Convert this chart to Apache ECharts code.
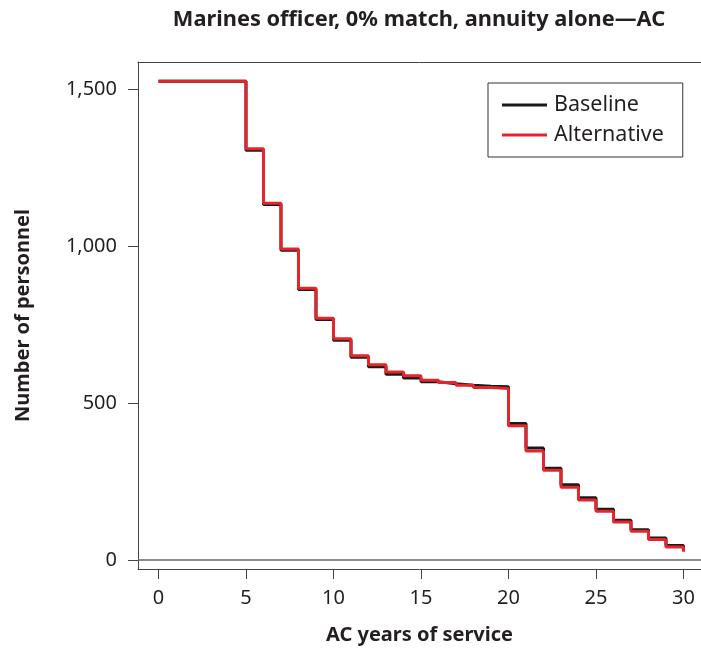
<!DOCTYPE html>
<html>
<head>
<meta charset="utf-8">
<script src="https://cdn.jsdelivr.net/npm/echarts@6/dist/echarts.min.js"></script>
<style>
  html, body { margin: 0; padding: 0; background: #fff; }
  #chart { width: 701px; height: 651px; }
</style>
</head>
<body>
<div id="chart"></div>
<script>
// years of service (AC)
var years = [0, 1, 2, 3, 4, 5, 6, 7, 8, 9, 10, 11, 12, 13, 14, 15, 16, 17, 18, 19, 20, 21, 22, 23, 24, 25, 26, 27, 28, 29, 30];
// number of personnel remaining
var baseline = [1525, 1525, 1525, 1525, 1525, 1305, 1132, 987, 862, 766, 700, 646, 616, 592, 580, 568, 562, 557, 554, 552, 435, 357, 293, 240, 199, 162, 127, 97, 71, 47, 30];
var alternative = [1525, 1525, 1525, 1525, 1525, 1310, 1136, 991, 866, 770, 705, 651, 622, 599, 587, 573, 566, 557, 550, 547, 428, 348, 286, 232, 192, 156, 122, 92, 66, 42, 27];
var xTicks = [0, 5, 10, 15, 20, 25, 30];
var yTicks = [0, 500, 1000, 1500];

var FONT = 'Noto Sans';
var FRAME = '#444';

function pairs(xs, ys) {
  var out = [];
  for (var i = 0; i < xs.length; i++) {
    out.push([xs[i], ys[i]]);
  }
  return out;
}

var chart = echarts.init(document.getElementById('chart'));

var option = {
  animation: false,
  title: {
    text: 'Marines officer, 0% match, annuity alone\u2014AC',
    left: 414,
    top: 4,
    textAlign: 'center',
    textStyle: { fontFamily: FONT, fontWeight: 'bold', fontSize: 21.8, color: '#231f20' }
  },
  legend: {
    left: 488,
    top: 83,
    orient: 'vertical',
    icon: 'rect',
    itemWidth: 45,
    itemHeight: 3,
    itemGap: 8,
    padding: [11, 19, 11, 14],
    borderColor: '#333',
    borderWidth: 1,
    textStyle: { fontFamily: FONT, fontSize: 21.5, color: '#231f20', padding: [0, 0, 0, 2] },
    data: ['Baseline', 'Alternative']
  },
  grid: {
    left: 138,
    top: 62,
    right: 0,
    bottom: 82,
    outerBoundsMode: 'none'
  },
  xAxis: [
    {
      type: 'value',
      min: -1.17,
      max: 31.0,
      name: 'AC years of service',
      nameLocation: 'middle',
      nameGap: 56,
      nameTextStyle: { fontFamily: FONT, fontWeight: 'bold', fontSize: 20, color: '#231f20' },
      axisLine: { show: true, onZero: false, lineStyle: { color: FRAME, width: 1 } },
      axisTick: { show: true, length: 10, customValues: xTicks, lineStyle: { color: FRAME } },
      axisLabel: { customValues: xTicks, margin: 19, fontFamily: FONT, fontSize: 20, color: '#231f20' },
      splitLine: { show: false }
    },
    {
      type: 'value',
      position: 'top',
      min: -1.17,
      max: 31.0,
      axisLine: { show: true, onZero: false, lineStyle: { color: FRAME, width: 1 } },
      axisTick: { show: false },
      axisLabel: { show: false },
      splitLine: { show: false }
    }
  ],
  yAxis: {
    type: 'value',
    min: -28,
    max: 1586,
    name: 'Number of personnel',
    nameLocation: 'middle',
    nameGap: 105,
    nameTextStyle: { fontFamily: FONT, fontWeight: 'bold', fontSize: 20, color: '#231f20' },
    axisLine: { show: true, onZero: false, lineStyle: { color: FRAME, width: 1 } },
    axisTick: { show: true, length: 10, customValues: yTicks, lineStyle: { color: FRAME } },
    axisLabel: {
      customValues: yTicks,
      margin: 21,
      fontFamily: FONT,
      fontSize: 20,
      color: '#231f20',
      formatter: function (v) { return v.toLocaleString('en-US'); }
    },
    splitLine: { show: false }
  },
  series: [
    {
      name: 'Baseline',
      type: 'line',
      step: 'end',
      symbol: 'none',
      color: '#1a1a1a',
      lineStyle: { width: 3, color: '#1a1a1a' },
      data: pairs(years, baseline),
      markLine: {
        silent: true,
        symbol: 'none',
        label: { show: false },
        lineStyle: { color: '#666', width: 1.5, type: 'solid' },
        data: [{ yAxis: 0 }]
      }
    },
    {
      name: 'Alternative',
      type: 'line',
      step: 'end',
      symbol: 'none',
      color: '#e3262b',
      lineStyle: { width: 3, color: '#e3262b' },
      data: pairs(years, alternative)
    }
  ]
};

chart.setOption(option);
</script>
</body>
</html>
